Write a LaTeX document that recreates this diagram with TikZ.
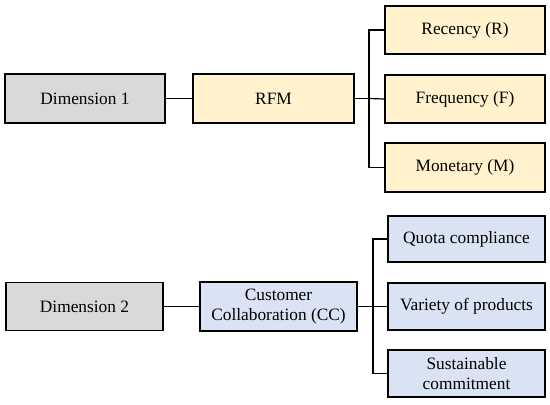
\documentclass[tikz,border=0pt]{standalone}
\usepackage{fontspec}
\setmainfont{Liberation Serif}
\definecolor{boxgray}{HTML}{D9D9D9}
\definecolor{boxyellow}{HTML}{FFF2CC}
\definecolor{boxblue}{HTML}{DAE3F3}
\begin{document}
\begin{tikzpicture}[x=0.75pt,y=-0.75pt,
  box/.style={draw=black, line width=1.1pt, rectangle, align=center, inner sep=2pt,
    font=\rmfamily\fontsize{13}{14.5}\selectfont, text=black},
  conn/.style={draw=black, line width=0.9pt}]
\useasboundingbox (0,0) rectangle (550,404);
% top group
\node[box, fill=boxgray, minimum width=120pt, minimum height=36.75pt] (d1) at (85,98.5) {Dimension 1};
\node[box, fill=boxyellow, minimum width=120.75pt, minimum height=36.75pt] (rfm) at (273.5,98.5) {RFM};
\node[box, fill=boxyellow, minimum width=120pt, minimum height=36pt] (rec) at (465,30) {Recency (R)};
\node[box, fill=boxyellow, minimum width=120pt, minimum height=36pt] (fre) at (465,99) {Frequency (F)};
\node[box, fill=boxyellow, minimum width=120pt, minimum height=36.75pt] (mon) at (465,167.5) {Monetary (M)};
\coordinate (t1) at (369,98.5);
\draw[conn] (d1.east) -- (rfm.west);
\draw[conn] (rfm.east) -- (t1);
\draw[conn] (t1) |- (rec.west);
\draw[conn] (t1) -- (fre.west);
\draw[conn] (t1) |- (mon.west);
% bottom group
\node[box, fill=boxgray, minimum width=117.75pt, minimum height=36pt] (d2) at (84.5,306.5) {Dimension 2};
\node[box, fill=boxblue, minimum width=117.75pt, minimum height=36.75pt] (cc) at (278.5,306.5) {Customer\\Collaboration (CC)};
\node[box, fill=boxblue, minimum width=117.75pt, minimum height=34.5pt] (quo) at (466.5,239) {Quota compliance};
\node[box, fill=boxblue, minimum width=117.75pt, minimum height=35.25pt] (var) at (466.5,306.5) {Variety of products};
\node[box, fill=boxblue, minimum width=117.75pt, minimum height=35.25pt] (sus) at (466.5,373.5) {Sustainable\\commitment};
\coordinate (t2) at (373,306.5);
\draw[conn] (d2.east) -- (cc.west);
\draw[conn] (cc.east) -- (t2);
\draw[conn] (t2) |- (quo.west);
\draw[conn] (t2) -- (var.west);
\draw[conn] (t2) |- (sus.west);
\end{tikzpicture}
\end{document}
